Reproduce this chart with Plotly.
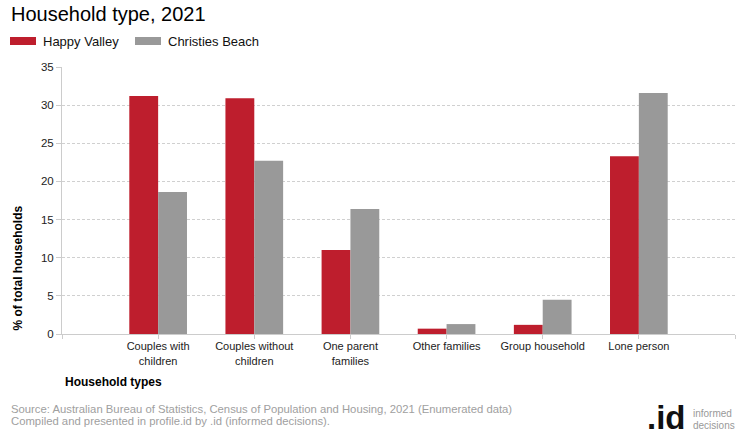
import plotly.graph_objects as go

categories = ["Couples with<br>children", "Couples without<br>children", "One parent<br>families",
              "Other families", "Group household", "Lone person"]
happy_valley = [31.2, 30.9, 11.0, 0.7, 1.2, 23.3]
christies_beach = [18.6, 22.7, 16.4, 1.3, 4.5, 31.6]
series_names = ["Happy Valley", "Christies Beach"]
colors = ["#BE1E2D", "#999999"]
y_ticks = [0, 5, 10, 15, 20, 25, 30, 35]

W, H = 740, 440
L, R, T, B = 62, 5, 67, 106
FONT = "Liberation Sans, Arial, sans-serif"

xpos = list(range(len(categories)))
fig = go.Figure()
for name, vals, col in zip(series_names, [happy_valley, christies_beach], colors):
    fig.add_trace(go.Bar(x=xpos, y=vals, name=name, marker=dict(color=col, line=dict(width=0)),
                         showlegend=False))

fig.update_layout(
    width=W, height=H,
    margin=dict(l=L, r=R, t=T, b=B, pad=0),
    paper_bgcolor="white", plot_bgcolor="white",
    barmode="group", bargap=0.4, bargroupgap=0,
    font=dict(family=FONT, size=12, color="#333"),
)
fig.update_xaxes(
    range=[-1, len(categories)],
    tickmode="array",
    tickvals=[-1] + xpos + [len(categories)],
    ticktext=[""] + categories + [""],
    ticks="outside", ticklen=4, tickcolor="#cccccc",
    showline=True, linecolor="#cccccc", linewidth=1,
    showgrid=False, zeroline=False,
    ticklabelstandoff=-2,
    tickfont=dict(size=11, color="#222"),
)
fig.update_yaxes(
    range=[0, 35], tickvals=y_ticks,
    ticks="outside", ticklen=5, tickcolor="#cccccc",
    showline=True, linecolor="#cccccc", linewidth=1,
    showgrid=True, gridcolor="#d0d0d0", griddash="3px,2px", gridwidth=1,
    zeroline=False,
    tickfont=dict(size=11.5, color="#222"),
)

pw = W - L - R
ph = H - T - B
def px(x):
    return (x - L) / pw
def py(y):
    return (H - B - y) / ph

ann = []
ann.append(dict(text="Household type, 2021", x=px(9), y=py(14), xref="paper", yref="paper",
                xanchor="left", yanchor="middle", showarrow=False,
                font=dict(family=FONT, size=20, color="#000")))
# legend
leg = [(10, 41, series_names[0], colors[0]), (135, 166, series_names[1], colors[1])]
shapes = []
for sx, tx, name, col in leg:
    shapes.append(dict(type="rect", xref="paper", yref="paper", x0=px(sx), x1=px(sx + 26),
                       y0=py(45), y1=py(37), fillcolor=col, line=dict(width=0)))
    ann.append(dict(text=name, x=px(tx), y=py(41), xref="paper", yref="paper",
                    xanchor="left", yanchor="middle", showarrow=False,
                    font=dict(family=FONT, size=13, color="#111")))
ann.append(dict(text="<b>% of total households</b>", textangle=-90, x=px(17), y=py(333),
                xref="paper", yref="paper", xanchor="center", yanchor="bottom", showarrow=False,
                font=dict(family=FONT, size=12, color="#000")))
ann.append(dict(text="<b>Household types</b>", x=px(63), y=py(382), xref="paper", yref="paper",
                xanchor="left", yanchor="middle", showarrow=False,
                font=dict(family=FONT, size=12, color="#000")))
ann.append(dict(text="Source: Australian Bureau of Statistics, Census of Population and Housing, 2021 (Enumerated data)",
                x=px(9), y=py(409), xref="paper", yref="paper", xanchor="left", yanchor="middle",
                showarrow=False, font=dict(family=FONT, size=11.3, color="#a0a0a0")))
ann.append(dict(text="Compiled and presented in profile.id by .id (informed decisions).",
                x=px(9), y=py(421), xref="paper", yref="paper", xanchor="left", yanchor="middle",
                showarrow=False, font=dict(family=FONT, size=11.3, color="#a0a0a0")))
ann.append(dict(text="<b>.id</b>", x=px(688), y=py(418), xref="paper", yref="paper",
                xanchor="right", yanchor="middle", showarrow=False,
                font=dict(family=FONT, size=33, color="#111")))
ann.append(dict(text="informed", x=px(691), y=py(413), xref="paper", yref="paper",
                xanchor="left", yanchor="middle", showarrow=False,
                font=dict(family=FONT, size=10, color="#999")))
ann.append(dict(text="decisions", x=px(691), y=py(425), xref="paper", yref="paper",
                xanchor="left", yanchor="middle", showarrow=False,
                font=dict(family=FONT, size=10, color="#999")))

fig.update_layout(annotations=ann, shapes=shapes)
fig.write_html("out.html")
